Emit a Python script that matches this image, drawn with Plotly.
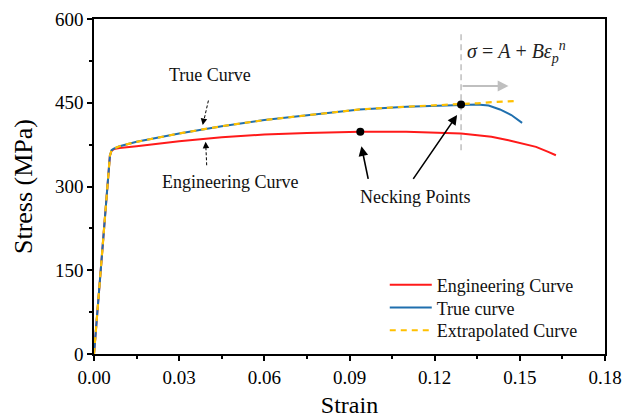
import plotly.graph_objects as go

# Engineering curve
eng_strain = [0.0, 0.0030, 0.0056, 0.0062, 0.0070, 0.0090, 0.015, 0.030, 0.045, 0.060, 0.075,
              0.0938, 0.110, 0.1293, 0.140, 0.146, 0.152, 0.1557, 0.160, 0.1627]
eng_stress = [0, 190, 355, 364, 367, 369, 372, 381, 388, 393, 396,
              398, 398, 395, 389, 383, 376, 371, 362, 356]

# True curve
true_strain = [0.0, 0.0030, 0.0056, 0.0062, 0.0070, 0.0090, 0.015, 0.030, 0.045, 0.060, 0.075,
               0.0829, 0.0935, 0.110, 0.1293, 0.135, 0.139, 0.143, 0.147, 0.1508]
true_stress = [0, 190, 355, 365, 368, 372, 380, 395, 408, 419, 428,
               432, 438, 443, 447, 447, 445, 438, 428, 414]

# Extrapolated curve
ext_strain = [0.0, 0.0030, 0.0056, 0.0062, 0.0070, 0.0090, 0.015, 0.030, 0.045, 0.060, 0.075,
              0.0829, 0.0935, 0.110, 0.1293, 0.135, 0.140, 0.148]
ext_stress = [0, 190, 355, 365, 368, 372, 380, 395, 408, 419, 428,
              432, 438, 443, 447, 449, 451, 453]

# Necking points
neck_strain = [0.0938, 0.1293]
neck_stress = [398, 447]

x_ticks = [0.00, 0.03, 0.06, 0.09, 0.12, 0.15, 0.18]
x_ticklabels = ["0.00", "0.03", "0.06", "0.09", "0.12", "0.15", "0.18"]
y_ticks = [0, 150, 300, 450, 600]

FONT = "Liberation Serif"

fig = go.Figure()
fig.add_trace(go.Scatter(x=eng_strain, y=eng_stress, mode="lines", name="Engineering Curve",
                         line=dict(color="#FF1A1A", width=2), legend="legend"))
fig.add_trace(go.Scatter(x=true_strain, y=true_stress, mode="lines", name="True curve",
                         line=dict(color="#1F6FAE", width=2), legend="legend2"))
fig.add_trace(go.Scatter(x=ext_strain, y=ext_stress, mode="lines", name="Extrapolated Curve",
                         line=dict(color="#FFC000", width=2.2, dash="6px,5px"), legend="legend3"))
fig.add_trace(go.Scatter(x=neck_strain, y=neck_stress, mode="markers", showlegend=False,
                         marker=dict(color="black", size=8)))

# gray dashed vertical line at necking strain
fig.add_shape(type="line", x0=neck_strain[1], x1=neck_strain[1], y0=365, y1=575,
              line=dict(color="#BFBFBF", width=1.5, dash="6px,4px"), layer="below")

annos = []
# gray arrow
annos.append(dict(x=0.146, y=480, ax=neck_strain[1], ay=480, axref="x", ayref="y",
                  xref="x", yref="y", text="", showarrow=True, arrowhead=2, arrowsize=1.2,
                  arrowwidth=1.8, arrowcolor="#BFBFBF"))
# formula
annos.append(dict(x=0.1488, y=541, xref="x", yref="y", showarrow=False,
                  text="<i>σ</i> = <i>A</i> + <i>Bε</i><sub><i>p</i></sub><sup><i>n</i></sup>",
                  font=dict(family=FONT, size=20, color="#222")))
# True Curve label + dashed arrow
annos.append(dict(x=0.0407, y=499, xref="x", yref="y", showarrow=False, text="True Curve",
                  font=dict(family=FONT, size=18, color="#111")))
fig.add_shape(type="line", x0=0.0403, y0=454, x1=0.0386, y1=416,
              line=dict(color="black", width=1, dash="3px,2px"))
annos.append(dict(x=0.0383, y=410, ax=0.0386, ay=418, axref="x", ayref="y", xref="x", yref="y",
                  text="", showarrow=True, arrowhead=2, arrowsize=1.3, arrowwidth=1, arrowcolor="black"))
# Engineering Curve label + dashed arrow
annos.append(dict(x=0.0478, y=308, xref="x", yref="y", showarrow=False, text="Engineering Curve",
                  font=dict(family=FONT, size=18, color="#111")))
fig.add_shape(type="line", x0=0.0397, y0=338, x1=0.0394, y1=372,
              line=dict(color="black", width=1, dash="3px,2px"))
annos.append(dict(x=0.0393, y=380, ax=0.0394, ay=372, axref="x", ayref="y", xref="x", yref="y",
                  text="", showarrow=True, arrowhead=2, arrowsize=1.3, arrowwidth=1, arrowcolor="black"))
# Necking points label + arrows
annos.append(dict(x=0.1132, y=281, xref="x", yref="y", showarrow=False, text="Necking Points",
                  font=dict(family=FONT, size=18, color="#111")))
annos.append(dict(x=0.0942, y=372, ax=0.0967, ay=311, axref="x", ayref="y", xref="x", yref="y",
                  text="", showarrow=True, arrowhead=2, arrowsize=1.2, arrowwidth=1.6, arrowcolor="black"))
annos.append(dict(x=0.1279, y=428, ax=0.1121, ay=311, axref="x", ayref="y", xref="x", yref="y",
                  text="", showarrow=True, arrowhead=2, arrowsize=1.2, arrowwidth=1.6, arrowcolor="black"))

axis_common = dict(showline=True, linecolor="black", linewidth=1.5, mirror=True,
                   ticks="outside", ticklen=5, tickwidth=1.5, tickcolor="black",
                   showgrid=False, zeroline=False, automargin=False,
                   tickfont=dict(family=FONT, size=19, color="black"))

leg_common = dict(xanchor="left", yanchor="middle", bgcolor="rgba(0,0,0,0)",
                  font=dict(family=FONT, size=18, color="#111"), itemwidth=42)

fig.update_layout(
    width=622, height=418,
    margin=dict(l=94, r=17, t=19, b=64),
    paper_bgcolor="white", plot_bgcolor="white",
    annotations=annos,
    xaxis=dict(range=[0, 0.18], tickvals=x_ticks, ticktext=x_ticklabels,
               title=dict(text="Strain", font=dict(family=FONT, size=24, color="black")),
               minor=dict(ticks="outside", ticklen=3, tickwidth=1.5, tickcolor="black", dtick=0.015),
               **axis_common),
    yaxis=dict(range=[0, 600], tickvals=y_ticks,
               title=dict(text="Stress (MPa)", font=dict(family=FONT, size=26, color="black")),
               minor=dict(ticks="outside", ticklen=3, tickwidth=1.5, tickcolor="black", dtick=75),
               **axis_common),
    legend=dict(x=0.569, y=0.206, **leg_common),
    legend2=dict(x=0.569, y=0.138, **leg_common),
    legend3=dict(x=0.569, y=0.070, **leg_common),
    showlegend=True,
)

fig.write_html("out.html")
